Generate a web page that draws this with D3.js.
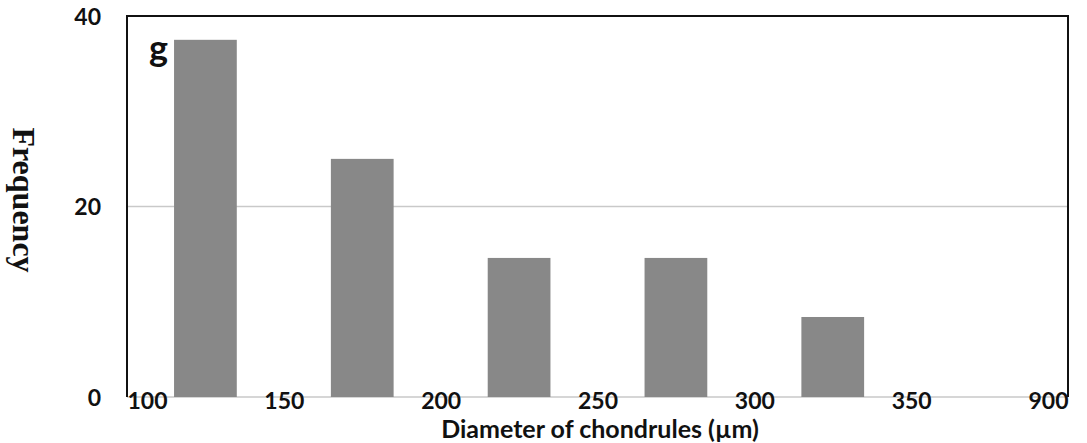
<!DOCTYPE html>
<meta charset="utf-8">
<style>
body { margin: 0; background: #fff; }
.tick text { font-family: Lato, "Open Sans", sans-serif; font-weight: bold; font-size: 23px; fill: #111; }
</style>
<svg width="1087" height="443"></svg>
<script src="https://d3js.org/d3.v7.min.js"></script>
<script>

// bins of chondrule diameter (um)
var bins = ["100-150", "150-200", "200-250", "250-300", "300-350", "350-900"];
var freq = [37.5, 25, 14.6, 14.6, 8.4, 0];
var edgeLabels = ["100", "150", "200", "250", "300", "350", "900"];
var yTicks = [0, 20, 40];

var svg = d3.select("svg"),
    margin = {top: 16, right: 19, bottom: 46, left: 127},
    width = svg.attr("width") - margin.left - margin.right,
    height = svg.attr("height") - margin.top - margin.bottom;

var x = d3.scaleBand().domain(bins).range([0, width]).paddingInner(0.6).paddingOuter(0.3),
    xEdge = d3.scalePoint().domain(edgeLabels).range([0, width]),
    y = d3.scaleLinear().domain([0, 40]).range([height, 0]);

var g = svg.append("g")
    .attr("transform", "translate(" + margin.left + "," + margin.top + ")");

// gridlines
g.selectAll(".grid")
    .data(yTicks.filter(function(d) { return d < 40; }))
    .enter().append("line")
    .attr("x1", 0).attr("x2", width)
    .attr("y1", function(d) { return y(d); })
    .attr("y2", function(d) { return y(d); })
    .attr("stroke", "#c9c9c9")
    .attr("stroke-width", 1.5);

// bars
g.selectAll(".bar")
    .data(freq)
    .enter().append("rect")
    .attr("class", "bar")
    .attr("x", function(d, i) { return x(bins[i]); })
    .attr("y", function(d) { return y(d); })
    .attr("width", x.bandwidth())
    .attr("height", function(d) { return height - y(d); })
    .attr("fill", "#888888");

// frame: left, top, right in black
g.append("path")
    .attr("d", "M0," + height + "V0H" + width + "V" + height)
    .attr("fill", "none")
    .attr("stroke", "#111")
    .attr("stroke-width", 2);

// y axis labels
var yAx = g.append("g")
    .attr("transform", "translate(-26,0)")
    .call(d3.axisLeft(y).tickValues(yTicks).tickSize(0).tickPadding(0));
yAx.select(".domain").remove();
yAx.selectAll("text").attr("dy", "0.35em");

// x axis labels at bin edges
var xAx = g.append("g")
    .attr("transform", "translate(0," + height + ")")
    .call(d3.axisBottom(xEdge).tickSize(0).tickPadding(0));
xAx.select(".domain").remove();
xAx.selectAll("text")
    .attr("y", 12)
    .attr("dy", null)
    .attr("text-anchor", function(d, i) {
      return i === 0 ? "start" : (i === edgeLabels.length - 1 ? "end" : "middle");
    });

// panel letter
g.append("text")
    .attr("x", 22).attr("y", 45)
    .attr("font-family", "Lato, sans-serif")
    .attr("font-weight", "bold")
    .attr("font-size", 36)
    .attr("fill", "#111")
    .text("g");

// axis titles
svg.append("text")
    .attr("x", 600).attr("y", 438)
    .attr("text-anchor", "middle")
    .attr("font-family", "Lato, sans-serif")
    .attr("font-weight", "bold")
    .attr("font-size", 25)
    .attr("fill", "#111")
    .text("Diameter of chondrules (\u00b5m)");

svg.append("text")
    .attr("transform", "translate(13,200) rotate(90)")
    .attr("text-anchor", "middle")
    .attr("font-family", "'Liberation Serif', serif")
    .attr("font-weight", "bold")
    .attr("font-size", 32)
    .attr("fill", "#111")
    .text("Frequency");

</script>
